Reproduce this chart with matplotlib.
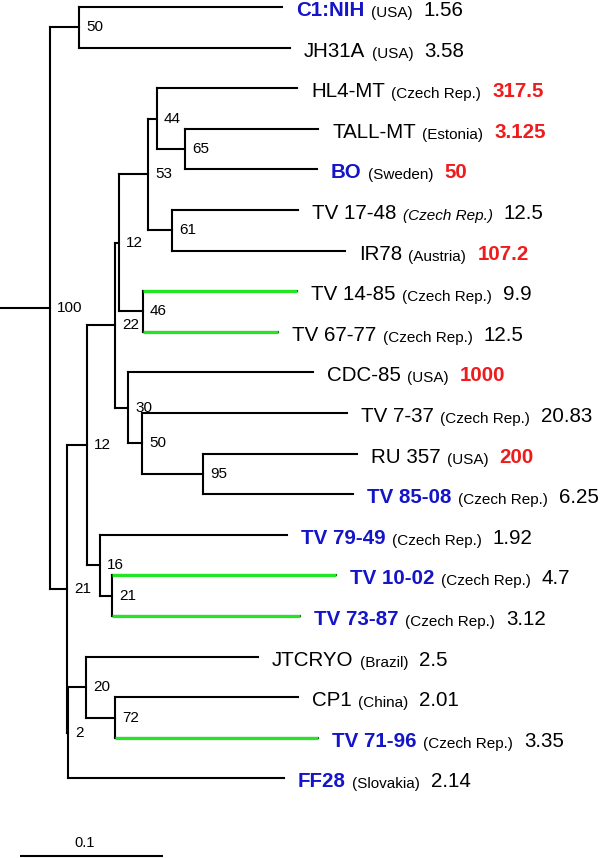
import re
import matplotlib
matplotlib.use('Agg')
import matplotlib.pyplot as plt

plt.rcParams['font.family'] = ['Liberation Sans', 'DejaVu Sans']

# arbre (newick) : longueurs de branches et bootstraps
newick = (
    "((C1NIH:0.142,JH31A:0.1476)50:0.0203,"
    "((((((HL4MT:0.0979,(TALLMT:0.093,BO:0.0923)65:0.0196)44:0.0063,"
    "(TV1748:0.0881,IR78:0.121)61:0.0168)53:0.0203,"
    "(TV1485:0.1077,TV6777:0.0944)46:0.0168)12:0.0028,"
    "(CDC85:0.1294,(TV737:0.1434,(RU357:0.1077,TV8508:0.1049)95:0.0427)50:0.0098)30:0.0091)22:0.0196,"
    "(TV7949:0.1308,(TV1002:0.1566,TV7387:0.1315)21:0.0084)16:0.0091)12:0.014,"
    "((JTCRYO:0.1203,(CP1:0.128,TV7196:0.142)72:0.0203)20:0.0126,FF28:0.151)2:0.0007)21:0.0119)100:0.035;"
)

# textes des feuilles, dans l'ordre de haut en bas
tip_names = ['C1:NIH', 'JH31A', 'HL4-MT', 'TALL-MT', 'BO', 'TV 17-48', 'IR78',
             'TV 14-85', 'TV 67-77', 'CDC-85', 'TV 7-37', 'RU 357', 'TV 85-08',
             'TV 79-49', 'TV 10-02', 'TV 73-87', 'JTCRYO', 'CP1', 'TV 71-96', 'FF28']
countries = ['(USA)', '(USA)', '(Czech Rep.)', '(Estonia)', '(Sweden)', '(Czech Rep.)',
             '(Austria)', '(Czech Rep.)', '(Czech Rep.)', '(USA)', '(Czech Rep.)', '(USA)',
             '(Czech Rep.)', '(Czech Rep.)', '(Czech Rep.)', '(Czech Rep.)', '(Brazil)',
             '(China)', '(Czech Rep.)', '(Slovakia)']
values = ['1.56', '3.58', '317.5', '3.125', '50', '12.5', '107.2', '9.9', '12.5', '1000',
          '20.83', '200', '6.25', '1.92', '4.7', '3.12', '2.5', '2.01', '3.35', '2.14']
blue_names = ['C1:NIH', 'BO', 'TV 85-08', 'TV 79-49', 'TV 10-02', 'TV 73-87', 'TV 71-96', 'FF28']
red_values = ['HL4-MT', 'TALL-MT', 'BO', 'IR78', 'CDC-85', 'RU 357']
green_tips = ['TV 14-85', 'TV 67-77', 'TV 10-02', 'TV 73-87', 'TV 71-96']
italic_country = ['TV 17-48']
scale_len = 0.1

BLUE = '#1414c8'
RED = '#ee1c1c'
GREEN = '#22e622'


def parse(tokens, pos):
    node = {'children': [], 'name': '', 'length': 0.0}
    if tokens[pos] == '(':
        pos += 1
        while True:
            child, pos = parse(tokens, pos)
            node['children'].append(child)
            tok = tokens[pos]
            pos += 1
            if tok == ')':
                break
    if pos < len(tokens) and tokens[pos] not in '(),;':
        name, _, length = tokens[pos].rpartition(':')
        node['name'] = name
        node['length'] = float(length)
        pos += 1
    return node, pos


def layout(node, x0, tips):
    node['x0'] = x0
    node['x'] = x0 + node['length']
    if not node['children']:
        node['y'] = len(tips)
        tips.append(node)
    else:
        for c in node['children']:
            layout(c, node['x'], tips)
        node['y'] = (node['children'][0]['y'] + node['children'][-1]['y']) / 2.0


tokens = re.findall(r"[(),;]|[^(),;]+", newick)
root, _ = parse(tokens, 0)
tips = []
layout(root, 0.0, tips)

fig = plt.figure(figsize=(6, 8.58), dpi=100)
ax = fig.add_axes([0, 0, 1, 1])
ax.axis('off')
ax.set_xlim(0, 600 / 1430.0)
ax.set_ylim(20.96, -0.172)


def draw(node):
    ax.plot([node['x0'], node['x']], [node['y'], node['y']], color='black', lw=1.5,
            solid_capstyle='projecting')
    if node['children']:
        ys = [c['y'] for c in node['children']]
        ax.plot([node['x'], node['x']], [min(ys), max(ys)], color='black', lw=1.5,
                solid_capstyle='projecting')
        ax.annotate(node['name'], xy=(node['x'], node['y']), xytext=(5, 0),
                    textcoords='offset points', va='center', ha='left', fontsize=11)
        for c in node['children']:
            draw(c)


draw(root)

for i, tip in enumerate(tips):
    name = tip_names[i]
    if name in green_tips:
        ax.plot([tip['x0'], tip['x']], [tip['y'], tip['y']], color=GREEN, lw=2.3,
                solid_capstyle='butt', zorder=3)
    bold = name in blue_names
    t1 = ax.annotate(name, xy=(tip['x'], tip['y']), xytext=(10, -6.5),
                     textcoords='offset points', va='baseline', ha='left', fontsize=14.8,
                     color=BLUE if bold else 'black', fontweight='bold' if bold else 'normal')
    t2 = ax.annotate(countries[i], xy=(1, 0), xycoords=t1, xytext=(4.5, 0),
                     textcoords='offset points', va='bottom', ha='left', fontsize=11,
                     fontstyle='italic' if name in italic_country else 'normal')
    red = name in red_values
    ax.annotate(values[i], xy=(1, 0), xycoords=t2, xytext=(8, 0),
                textcoords='offset points', va='bottom', ha='left', fontsize=14.8,
                color=RED if red else 'black', fontweight='bold' if red else 'normal')

# barre d'echelle
x0 = 20 / 1430.0
ax.plot([x0, x0 + scale_len], [20.91, 20.91], color='black', lw=1.5, solid_capstyle='butt')
ax.annotate(str(scale_len), xy=(x0 + scale_len * 0.45, 20.91), xytext=(0, 4),
            textcoords='offset points', ha='center', va='bottom', fontsize=10.5)

fig.savefig('out.png', dpi=100)
